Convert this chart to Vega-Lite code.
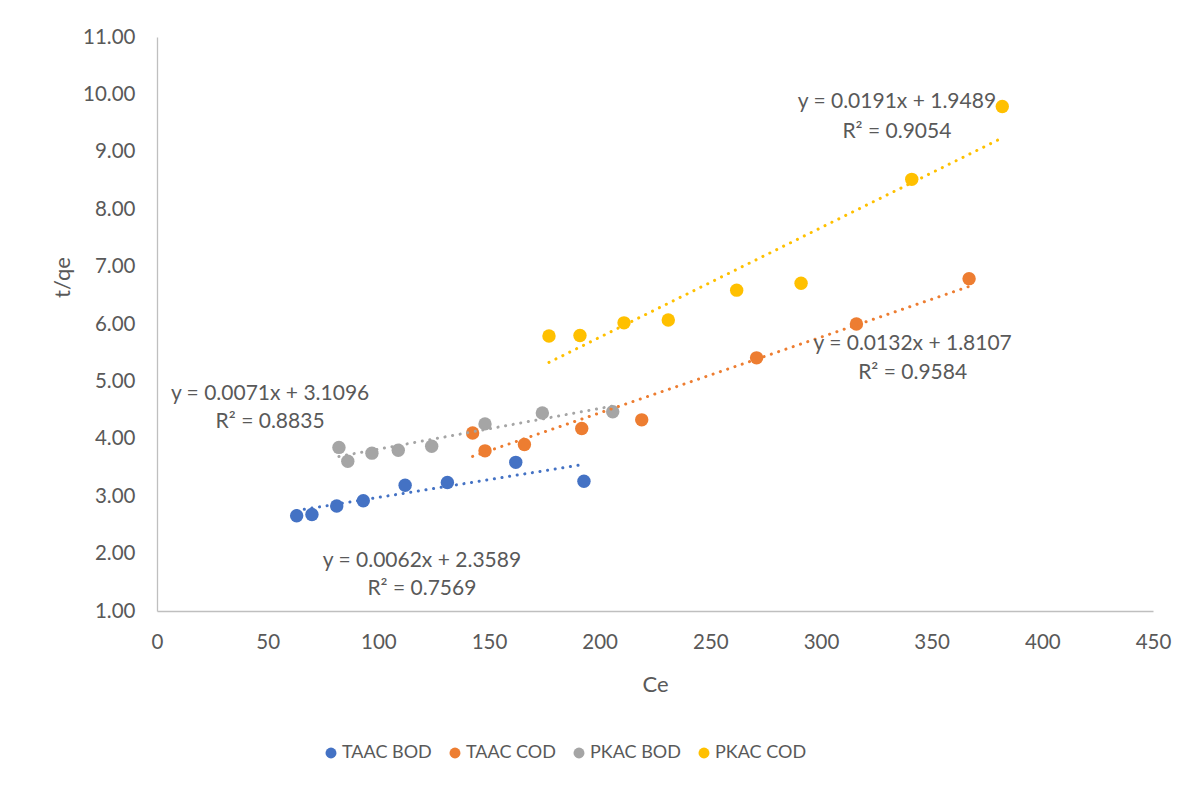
{
  "$schema": "https://vega.github.io/schema/vega-lite/v6.json",
  "width": 996,
  "height": 574,
  "autosize": {"type": "none"},
  "padding": {"left": 157, "top": 37, "right": 42, "bottom": 176},
  "background": "white",
  "config": {
    "view": {"stroke": null},
    "font": "Lato",
    "axis": {
      "grid": false,
      "ticks": false,
      "labelFlush": false,
      "domainColor": "#BFBFBF",
      "domainWidth": 1.3,
      "labelColor": "#595959",
      "titleColor": "#595959",
      "labelFont": "Lato",
      "titleFont": "Lato",
      "labelFontSize": 20.5,
      "titleFontSize": 22,
      "titleFontWeight": "normal"
    }
  },
  "datasets": {
    "points": [
      {"series": "TAAC BOD", "Ce": 63.1, "tqe": 2.66},
      {"series": "TAAC BOD", "Ce": 70.0, "tqe": 2.68},
      {"series": "TAAC BOD", "Ce": 81.2, "tqe": 2.83},
      {"series": "TAAC BOD", "Ce": 93.2, "tqe": 2.92},
      {"series": "TAAC BOD", "Ce": 112.1, "tqe": 3.19},
      {"series": "TAAC BOD", "Ce": 131.2, "tqe": 3.24},
      {"series": "TAAC BOD", "Ce": 162.1, "tqe": 3.59},
      {"series": "TAAC BOD", "Ce": 192.9, "tqe": 3.26},
      {"series": "TAAC COD", "Ce": 142.6, "tqe": 4.10},
      {"series": "TAAC COD", "Ce": 148.2, "tqe": 3.79},
      {"series": "TAAC COD", "Ce": 166.0, "tqe": 3.90},
      {"series": "TAAC COD", "Ce": 191.9, "tqe": 4.18},
      {"series": "TAAC COD", "Ce": 219.0, "tqe": 4.33},
      {"series": "TAAC COD", "Ce": 270.9, "tqe": 5.41},
      {"series": "TAAC COD", "Ce": 316.0, "tqe": 6.00},
      {"series": "TAAC COD", "Ce": 366.9, "tqe": 6.79},
      {"series": "PKAC BOD", "Ce": 82.2, "tqe": 3.85},
      {"series": "PKAC BOD", "Ce": 86.2, "tqe": 3.61},
      {"series": "PKAC BOD", "Ce": 97.1, "tqe": 3.75},
      {"series": "PKAC BOD", "Ce": 109.0, "tqe": 3.80},
      {"series": "PKAC BOD", "Ce": 124.1, "tqe": 3.87},
      {"series": "PKAC BOD", "Ce": 148.2, "tqe": 4.26},
      {"series": "PKAC BOD", "Ce": 174.1, "tqe": 4.45},
      {"series": "PKAC BOD", "Ce": 205.9, "tqe": 4.47},
      {"series": "PKAC COD", "Ce": 177.1, "tqe": 5.79},
      {"series": "PKAC COD", "Ce": 191.1, "tqe": 5.80},
      {"series": "PKAC COD", "Ce": 211.0, "tqe": 6.02},
      {"series": "PKAC COD", "Ce": 231.0, "tqe": 6.07},
      {"series": "PKAC COD", "Ce": 261.9, "tqe": 6.59},
      {"series": "PKAC COD", "Ce": 291.0, "tqe": 6.71},
      {"series": "PKAC COD", "Ce": 341.0, "tqe": 8.52},
      {"series": "PKAC COD", "Ce": 381.9, "tqe": 9.79}
    ],
    "trends": [
      {"series": "TAAC BOD", "x1": 63.1, "y1": 2.750, "x2": 192.9, "y2": 3.555},
      {"series": "TAAC COD", "x1": 142.6, "y1": 3.693, "x2": 366.9, "y2": 6.654},
      {"series": "PKAC BOD", "x1": 82.2, "y1": 3.693, "x2": 205.9, "y2": 4.571},
      {"series": "PKAC COD", "x1": 177.1, "y1": 5.331, "x2": 381.9, "y2": 9.243}
    ],
    "labels": [
      {"x": 119.7, "y": 1.87, "text": "y = 0.0062x + 2.3589"},
      {"x": 119.7, "y": 1.38, "text": "R² = 0.7569"},
      {"x": 51.1, "y": 4.78, "text": "y = 0.0071x + 3.1096"},
      {"x": 51.1, "y": 4.29, "text": "R² = 0.8835"},
      {"x": 334.3, "y": 9.87, "text": "y = 0.0191x + 1.9489"},
      {"x": 334.3, "y": 9.35, "text": "R² = 0.9054"},
      {"x": 341.4, "y": 5.65, "text": "y = 0.0132x + 1.8107"},
      {"x": 341.4, "y": 5.15, "text": "R² = 0.9584"}
    ]
  },
  "layer": [
    {
      "data": {"name": "points"},
      "mark": {"type": "circle", "size": 180, "opacity": 1},
      "encoding": {
        "x": {
          "field": "Ce", "type": "quantitative",
          "scale": {"domain": [0, 450], "nice": false, "zero": false},
          "axis": {
            "values": [0, 50, 100, 150, 200, 250, 300, 350, 400, 450],
            "labelPadding": 21,
            "title": "Ce",
            "titleX": 498,
            "titleY": 73,
            "titleBaseline": "middle"
          }
        },
        "y": {
          "field": "tqe", "type": "quantitative",
          "scale": {"domain": [1, 11], "nice": false, "zero": false},
          "axis": {
            "values": [1, 2, 3, 4, 5, 6, 7, 8, 9, 10, 11],
            "format": ".2f",
            "labelPadding": 22,
            "title": "t/qe",
            "titleX": -95,
            "titleY": 240,
            "titleAlign": "center",
            "titleBaseline": "middle"
          }
        },
        "color": {
          "field": "series", "type": "nominal",
          "scale": {
            "domain": ["TAAC BOD", "TAAC COD", "PKAC BOD", "PKAC COD"],
            "range": ["#4472C4", "#ED7D31", "#A5A5A5", "#FFC000"]
          },
          "legend": {
            "title": null,
            "orient": "none",
            "direction": "horizontal",
            "columns": 4,
            "legendX": 165,
            "legendY": 707,
            "symbolType": "circle",
            "symbolSize": 120,
            "symbolOpacity": 1,
            "labelFont": "Lato",
            "labelFontSize": 18,
            "labelColor": "#595959",
            "labelOffset": 2,
            "columnPadding": 14
          }
        }
      }
    },
    {
      "data": {"name": "trends"},
      "mark": {"type": "rule", "strokeWidth": 3, "strokeDash": [0.1, 7.6], "strokeCap": "round"},
      "encoding": {
        "x": {"field": "x1", "type": "quantitative"},
        "y": {"field": "y1", "type": "quantitative"},
        "x2": {"field": "x2"},
        "y2": {"field": "y2"},
        "color": {"field": "series", "type": "nominal", "legend": null}
      }
    },
    {
      "data": {"name": "labels"},
      "mark": {"type": "text", "font": "Lato", "fontSize": 21, "color": "#595959", "align": "center", "baseline": "middle"},
      "encoding": {
        "x": {"field": "x", "type": "quantitative"},
        "y": {"field": "y", "type": "quantitative"},
        "text": {"field": "text"}
      }
    }
  ],
  "resolve": {"legend": {"color": "independent"}}
}
